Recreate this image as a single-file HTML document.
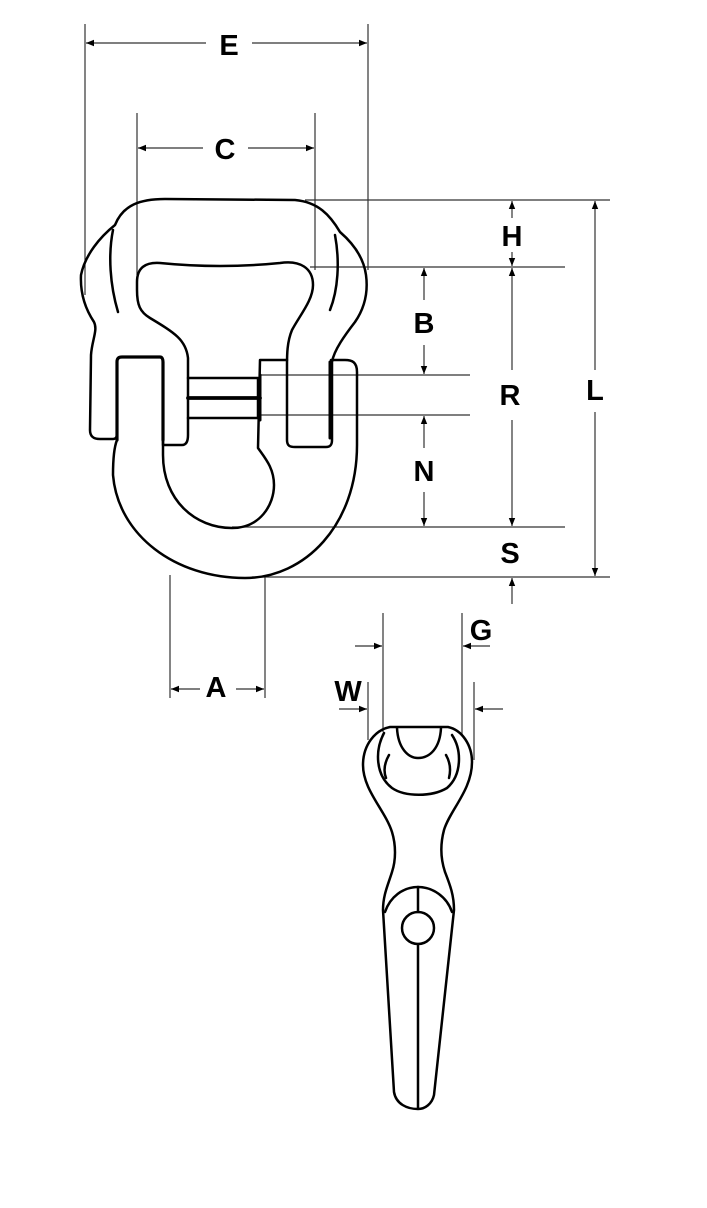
<!DOCTYPE html>
<html><head><meta charset="utf-8"><style>
html,body{margin:0;padding:0;background:#fff}
svg{display:block}
text{font-family:"Liberation Sans",Arial,sans-serif;font-weight:bold;font-size:29px;fill:#000;text-anchor:middle}
</style></head><body>
<svg width="707" height="1208" viewBox="0 0 707 1208" xmlns="http://www.w3.org/2000/svg">
<defs>
<marker id="a" viewBox="0 0 10 10" refX="10" refY="5" markerWidth="8" markerHeight="8" orient="auto-start-reverse" markerUnits="userSpaceOnUse"><path d="M0,1 L10,5 L0,9z" fill="#000"/></marker>
</defs>
<g stroke="#333" stroke-width="1.2" fill="none">
<line x1="85" y1="24" x2="85" y2="295"/><line x1="368" y1="24" x2="368" y2="270"/>
<line x1="206" y1="43" x2="86" y2="43" marker-end="url(#a)"/><line x1="252" y1="43" x2="367" y2="43" marker-end="url(#a)"/>
<line x1="137" y1="113" x2="137" y2="275"/><line x1="315" y1="113" x2="315" y2="270"/>
<line x1="203" y1="148" x2="138" y2="148" marker-end="url(#a)"/><line x1="248" y1="148" x2="314" y2="148" marker-end="url(#a)"/>
<line x1="305" y1="200" x2="610" y2="200"/>
<line x1="310" y1="267" x2="565" y2="267"/>
<line x1="260" y1="375" x2="470" y2="375"/>
<line x1="260" y1="415" x2="470" y2="415"/>
<line x1="232" y1="527" x2="565" y2="527"/>
<line x1="252" y1="577" x2="610" y2="577"/>
<line x1="512" y1="218" x2="512" y2="201" marker-end="url(#a)"/><line x1="512" y1="252" x2="512" y2="266" marker-end="url(#a)"/>
<line x1="424" y1="300" x2="424" y2="268" marker-end="url(#a)"/><line x1="424" y1="345" x2="424" y2="374" marker-end="url(#a)"/>
<line x1="512" y1="370" x2="512" y2="268" marker-end="url(#a)"/><line x1="512" y1="420" x2="512" y2="526" marker-end="url(#a)"/>
<line x1="424" y1="448" x2="424" y2="416" marker-end="url(#a)"/><line x1="424" y1="492" x2="424" y2="526" marker-end="url(#a)"/>
<line x1="595" y1="370" x2="595" y2="201" marker-end="url(#a)"/><line x1="595" y1="412" x2="595" y2="576" marker-end="url(#a)"/>
<line x1="512" y1="604" x2="512" y2="578" marker-end="url(#a)"/>
<line x1="170" y1="575" x2="170" y2="698"/><line x1="265" y1="575" x2="265" y2="698"/>
<line x1="200" y1="689" x2="171" y2="689" marker-end="url(#a)"/><line x1="236" y1="689" x2="264" y2="689" marker-end="url(#a)"/>
<line x1="383" y1="613" x2="383" y2="732"/><line x1="462" y1="613" x2="462" y2="735"/>
<line x1="355" y1="646" x2="382" y2="646" marker-end="url(#a)"/><line x1="490" y1="646" x2="463" y2="646" marker-end="url(#a)"/>
<line x1="368" y1="682" x2="368" y2="740"/><line x1="474" y1="682" x2="474" y2="760"/>
<line x1="339" y1="709" x2="367" y2="709" marker-end="url(#a)"/><line x1="503" y1="709" x2="475" y2="709" marker-end="url(#a)"/>
</g>
<text x="229" y="55">E</text>
<text x="225" y="159">C</text>
<text x="512" y="246">H</text>
<text x="424" y="333">B</text>
<text x="510" y="405">R</text>
<text x="595" y="400">L</text>
<text x="424" y="481">N</text>
<text x="510" y="563">S</text>
<text x="216" y="697">A</text>
<text x="481" y="640">G</text>
<text x="348" y="701">W</text>

<g stroke="#000" stroke-width="2.5" fill="none" stroke-linejoin="round" stroke-linecap="round">
<path d="M117,440 C113,450 113,470 113,475 C118,535 175,578 245,578 C305,578 357,525 357,445 L357,372 C357,362 352,360 345,360 L331,360"/>
<path d="M163,440 L163,455 C163,500 195,528 232,528 C260,528 274,505 274,485 C274,468 265,458 258,448 L260,360 L287,360"/>
<path d="M117,440 L117,362 C117,358 119,357 122,357 L160,357 C162,357 163,359 163,362 L163,440" stroke-width="3.2"/>
<path d="M163,440 L163,445 L182,445 C187,445 188,440 188,435 L188,358 C186,340 175,333 150,318 C140,312 137,305 137,290 L137,282 C137,268 145,262 160,263 C200,267 240,267 280,263 C300,260 313,268 313,285 C313,300 300,315 292,330 C287,342 287,355 287,365 L287,440 C287,446 290,447 295,447 L326,447 C331,447 332,444 332,440 L332,362 C334,350 345,335 355,322 C366,306 368,290 366,275 C364,260 355,245 340,232 C330,215 318,202 295,200 L165,199 C140,199 123,205 115,225 C100,237 85,255 81,275 C80,295 86,310 94,322 C98,330 92,340 91,355 L90,430 C90,437 94,439 100,439 L113,439 C116,439 117,437 117,433"/>
<path d="M113,230 C108,255 110,285 118,312"/>
<path d="M335,235 C340,262 338,290 330,310"/>
<path d="M188,378 L258,378 L258,418 L188,418"/>
<line x1="188" y1="398" x2="260" y2="398" stroke-width="3.8"/>
<line x1="260" y1="375" x2="260" y2="420" stroke-width="3"/>
<line x1="330" y1="362" x2="330" y2="438" stroke-width="3"/>
<path d="M390,727 L448,727 C462,730 472,745 472,762 C472,790 450,810 444,830 C440,845 441,860 445,872 C450,885 454,895 454,910 L434,1095 C432,1104 425,1109 418,1109 C407,1109 396,1104 394,1092 L383,910 C383,895 388,885 392,872 C396,860 396,845 392,832 C385,810 363,790 363,765 C363,745 375,730 390,727Z"/>
<path d="M384,733 C375,750 375,775 392,788 C405,797 432,797 447,788 C462,775 462,750 452,735"/>
<path d="M397,728 C398,748 408,758 418,758 C430,758 440,748 441,728"/>
<path d="M389,755 C385,762 383,770 386,778"/>
<path d="M446,755 C450,762 451,770 449,778"/>
<path d="M385,912 C390,897 403,887 418,887 C433,887 447,897 452,912"/>
<circle cx="418" cy="928" r="16"/>
<line x1="418" y1="887" x2="418" y2="912"/>
<line x1="418" y1="944" x2="418" y2="1108"/>
</g>
</svg>
</body></html>
